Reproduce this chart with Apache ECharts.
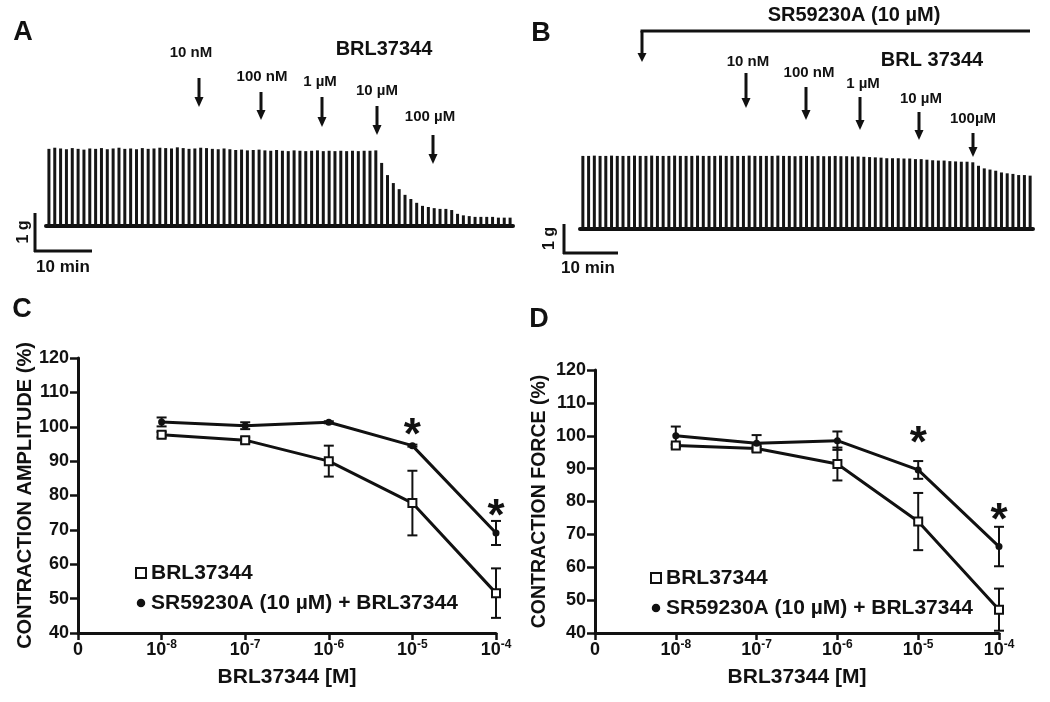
<!DOCTYPE html>
<html>
<head>
<meta charset="utf-8">
<script src="https://cdn.jsdelivr.net/npm/echarts@6/dist/echarts.min.js"></script>
<style>html,body{margin:0;padding:0;background:#fff;}#c{width:1050px;height:702px;}</style>
</head>
<body>
<div id="c"></div>
<script>
// ---------- DATA ----------
// Panel A: contraction amplitudes (g), BRL37344 alone, one value per contraction
const traceA = [
  2.03, 2.06, 2.04, 2.02, 2.05, 2.03, 2.01, 2.04, 2.03, 2.05,
  2.02, 2.04, 2.06, 2.03, 2.04, 2.02, 2.05, 2.03, 2.04, 2.06,
  2.05, 2.04, 2.07, 2.05, 2.03, 2.04, 2.06, 2.05, 2.03, 2.02,
  2.04, 2.02, 2.00, 2.01, 1.99, 2.00, 2.01, 1.99, 1.98, 2.00,
  1.98, 1.97, 1.99, 1.98, 1.97, 1.98, 1.99, 1.97, 1.98, 1.97,
  1.98, 1.97, 1.98, 1.97, 1.98, 1.98, 1.99,
  1.66, 1.34, 1.13, 0.97, 0.82, 0.71, 0.61, 0.53, 0.50, 0.47,
  0.45, 0.45, 0.42, 0.32, 0.28, 0.26, 0.24, 0.24, 0.24, 0.24,
  0.22, 0.22, 0.22
];
// Panel B: contraction amplitudes (g), SR59230A + BRL37344
const traceB = [
  2.52, 2.52, 2.53, 2.52, 2.52, 2.53, 2.52, 2.52, 2.52, 2.53,
  2.52, 2.52, 2.53, 2.52, 2.52, 2.52, 2.53, 2.52, 2.52, 2.52,
  2.53, 2.52, 2.52, 2.52, 2.53, 2.52, 2.52, 2.52, 2.52, 2.53,
  2.52, 2.52, 2.52, 2.52, 2.53, 2.52, 2.52, 2.51, 2.52, 2.52,
  2.51, 2.52, 2.51, 2.51, 2.52, 2.51, 2.51, 2.50, 2.50, 2.49,
  2.48, 2.47, 2.46, 2.44, 2.44, 2.44, 2.43, 2.43, 2.41, 2.41,
  2.39, 2.37, 2.36, 2.36, 2.34, 2.33, 2.32, 2.32, 2.30, 2.18,
  2.09, 2.05, 2.01, 1.95, 1.92, 1.90, 1.86, 1.86, 1.84
];
// Panels C and D: concentration-response (mean ± SEM)
const concentrations = [1e-8, 1e-7, 1e-6, 1e-5, 1e-4];
const ampBRL    = [97.7, 96.1, 90.0, 77.8, 51.6];
const ampBRLerr = [0.8, 0.8, 4.5, 9.4, 7.2];
const ampSR     = [101.4, 100.3, 101.3, 94.5, 69.1];
const ampSRerr  = [1.3, 1.0, 0.3, 0.3, 3.5];
const forceBRL    = [97.0, 96.1, 91.4, 73.9, 47.1];
const forceBRLerr = [0.6, 0.6, 5.0, 8.7, 6.4];
const forceSR     = [100.0, 97.7, 98.5, 89.6, 66.3];
const forceSRerr  = [2.8, 2.5, 2.8, 2.7, 6.0];
// significance marks (concentration, y position)
const sigC = [[1e-5, 100.1], [1e-4, 76.4]];
const sigD = [[1e-5, 100.3], [1e-4, 77.0]];
const nameBRL = 'BRL37344';
const nameSR = 'SR59230A (10 µM) + BRL37344';
const doseLabelsA = ['10 nM', '100 nM', '1 µM', '10 µM', '100 µM'];
const doseLabelsB = ['10 nM', '100 nM', '1 µM', '10 µM', '100µM'];

// ---------- CHART ----------
const FF = '"Liberation Sans", Arial, Helvetica, sans-serif';
const K = '#111';
const chart = echarts.init(document.getElementById('c'), null, {renderer: 'canvas'});

function errSeries(xi, yi, means, errs) {
  return {
    type: 'custom', xAxisIndex: xi, yAxisIndex: yi, silent: true, z: 3,
    data: concentrations.map((c, i) => [c, means[i] - errs[i], means[i] + errs[i]]),
    renderItem: function (params, api) {
      const lo = api.coord([api.value(0), api.value(1)]);
      const hi = api.coord([api.value(0), api.value(2)]);
      const w = 5;
      const st = {stroke: K, lineWidth: 2};
      return {type: 'group', children: [
        {type: 'line', shape: {x1: lo[0], y1: lo[1], x2: hi[0], y2: hi[1]}, style: st},
        {type: 'line', shape: {x1: lo[0] - w, y1: lo[1], x2: lo[0] + w, y2: lo[1]}, style: st},
        {type: 'line', shape: {x1: hi[0] - w, y1: hi[1], x2: hi[0] + w, y2: hi[1]}, style: st}
      ]};
    }
  };
}
function lineSeries(xi, yi, name, means, hollow) {
  return {
    type: 'line', name: name, xAxisIndex: xi, yAxisIndex: yi, z: 4, silent: true,
    data: concentrations.map((c, i) => [c, means[i]]),
    symbol: hollow ? 'rect' : 'circle',
    symbolSize: hollow ? 8 : 7,
    lineStyle: {color: K, width: 3},
    itemStyle: hollow ? {color: '#fff', borderColor: K, borderWidth: 2} : {color: K, borderWidth: 0}
  };
}
function starSeries(xi, yi, pts) {
  return {
    type: 'custom', xAxisIndex: xi, yAxisIndex: yi, silent: true, z: 5,
    data: pts,
    renderItem: function (params, api) {
      const p = api.coord([api.value(0), api.value(1)]);
      return {type: 'text', x: p[0], y: p[1] + 10,
        style: {text: '*', fill: K, font: 'bold 44px ' + FF,
          align: 'center', verticalAlign: 'middle', textAlign: 'center', textVerticalAlign: 'middle'}};
    }
  };
}
function xLog(gi) {
  return {
    gridIndex: gi, type: 'log', logBase: 10, min: 1e-9, max: 1e-4, splitNumber: 5,
    name: 'BRL37344 [M]', nameLocation: 'middle', nameGap: 34,
    nameTextStyle: {fontSize: 21, fontWeight: 'bold', color: K, fontFamily: FF},
    axisLine: {show: true, lineStyle: {color: K, width: 3}},
    axisTick: {show: true, length: 7, lineStyle: {color: K, width: 2.5}},
    splitLine: {show: false}, minorTick: {show: false},
    axisLabel: {
      margin: 6, color: K, fontFamily: FF,
      formatter: function (v) {
        const e = Math.round(Math.log10(v));
        return e <= -9 ? '{n|0}' : '{n|10}{s|' + e + '}';
      },
      rich: {
        n: {fontSize: 18, fontWeight: 'bold', color: K, fontFamily: FF, lineHeight: 22},
        s: {fontSize: 12, fontWeight: 'bold', color: K, fontFamily: FF, lineHeight: 12, verticalAlign: 'top'}
      }
    }
  };
}
function yPct(gi, name, gap, fs) {
  return {
    gridIndex: gi, type: 'value', min: 40, max: 120, interval: 10,
    name: name, nameLocation: 'middle', nameGap: gap,
    nameTextStyle: {fontSize: fs, fontWeight: 'bold', color: K, fontFamily: FF},
    axisLine: {show: true, lineStyle: {color: K, width: 3}},
    axisTick: {show: true, length: 8, lineStyle: {color: K, width: 2.5}},
    splitLine: {show: false},
    axisLabel: {fontSize: 18, fontWeight: 'bold', color: K, fontFamily: FF, margin: 9}
  };
}
function traceX(gi, arr) {
  return {
    gridIndex: gi, type: 'category', data: arr.map((v, i) => i),
    axisLine: {show: true, lineStyle: {color: K, width: 4}},
    axisTick: {show: false}, axisLabel: {show: false}, splitLine: {show: false}
  };
}
function legendFor(left, top) {
  return {
    left: left, top: top, orient: 'vertical', itemWidth: 10, itemHeight: 10, itemGap: 8,
    itemTextGap: 7, selectedMode: false,
    textStyle: {fontSize: 21, fontWeight: 'bold', color: K, fontFamily: FF, lineHeight: 22},
    data: [
      {name: nameBRL, icon: 'rect', itemStyle: {color: '#fff', borderColor: K, borderWidth: 2}},
      {name: nameSR, icon: 'circle', itemStyle: {color: K, borderColor: '#fff', borderWidth: 1.5}}
    ]
  };
}

const option = {
  animation: false,
  backgroundColor: '#fff',
  textStyle: {fontFamily: FF},
  grid: [
    {left: 46, top: 131, width: 467, height: 95},
    {left: 580, top: 142, width: 453, height: 87},
    {left: 78, top: 358, width: 418, height: 275},
    {left: 595, top: 370, width: 404, height: 263}
  ],
  xAxis: [traceX(0, traceA), traceX(1, traceB), xLog(2), xLog(3)],
  yAxis: [
    {gridIndex: 0, type: 'value', min: 0, max: 2.5, show: false},
    {gridIndex: 1, type: 'value', min: 0, max: 3, show: false},
    yPct(2, 'CONTRACTION AMPLITUDE (%)', 43, 20),
    yPct(3, 'CONTRACTION FORCE (%)', 45, 19.5)
  ],
  legend: [legendFor(130, 557), legendFor(645, 562)],
  series: [
    {type: 'bar', xAxisIndex: 0, yAxisIndex: 0, data: traceA, barWidth: 3, silent: true, itemStyle: {color: '#151515'}},
    {type: 'bar', xAxisIndex: 1, yAxisIndex: 1, data: traceB, barWidth: 3, silent: true, itemStyle: {color: '#151515'}},
    errSeries(2, 2, ampBRL, ampBRLerr),
    errSeries(2, 2, ampSR, ampSRerr),
    lineSeries(2, 2, nameBRL, ampBRL, true),
    lineSeries(2, 2, nameSR, ampSR, false),
    starSeries(2, 2, sigC),
    errSeries(3, 3, forceBRL, forceBRLerr),
    errSeries(3, 3, forceSR, forceSRerr),
    lineSeries(3, 3, nameBRL, forceBRL, true),
    lineSeries(3, 3, nameSR, forceSR, false),
    starSeries(3, 3, sigD)
  ]
};
chart.setOption(option);

// ---------- ANNOTATIONS ----------
function txt(s, x, y, size, rot) {
  return {type: 'text', x: x, y: y, rotation: rot || 0, silent: true, z: 100,
    style: {text: s, fill: K, font: 'bold ' + size + 'px ' + FF,
      align: 'center', verticalAlign: 'middle', textAlign: 'center', textVerticalAlign: 'middle'}};
}
function arrow(x, y0, y1, head) {
  const h = head || 10;
  return [
    {type: 'line', silent: true, z: 100, shape: {x1: x, y1: y0, x2: x, y2: y1 - h + 2}, style: {stroke: K, lineWidth: 3}},
    {type: 'polygon', silent: true, z: 100, shape: {points: [[x - 4.5, y1 - h], [x + 4.5, y1 - h], [x, y1]]}, style: {fill: K}}
  ];
}
function lineEl(x1, y1, x2, y2, w) {
  return {type: 'line', silent: true, z: 100, shape: {x1: x1, y1: y1, x2: x2, y2: y2}, style: {stroke: K, lineWidth: w || 3}};
}
// 1 g in pixels from each trace's own scale
const gA = chart.convertToPixel({gridIndex: 0}, [0, 0])[1] - chart.convertToPixel({gridIndex: 0}, [0, 1])[1];
const gB = chart.convertToPixel({gridIndex: 1}, [0, 0])[1] - chart.convertToPixel({gridIndex: 1}, [0, 1])[1];

const els = [
  txt('A', 23, 33, 27), txt('B', 541, 34, 27), txt('C', 22, 310, 27), txt('D', 539, 320, 27),
  // panel A
  txt('BRL37344', 384, 49, 20),
  txt(doseLabelsA[0], 191, 53, 15), txt(doseLabelsA[1], 262, 77, 15), txt(doseLabelsA[2], 320, 82, 15),
  txt(doseLabelsA[3], 377, 91, 15), txt(doseLabelsA[4], 430, 117, 15),
  ...arrow(199, 78, 107), ...arrow(261, 92, 120), ...arrow(322, 97, 127), ...arrow(377, 106, 135), ...arrow(433, 135, 164),
  lineEl(35, 251 - gA, 35, 252), lineEl(34, 251, 92, 251),
  txt('1 g', 24, 251 - gA / 2, 16, Math.PI / 2), txt('10 min', 63, 267, 17),
  // panel B
  txt('SR59230A (10 µM)', 854, 15, 20),
  lineEl(640.5, 31, 1030, 31), ...arrow(642, 31, 62, 9),
  txt('BRL 37344', 932, 60, 20),
  txt(doseLabelsB[0], 748, 62, 15), txt(doseLabelsB[1], 809, 73, 15), txt(doseLabelsB[2], 863, 84, 15),
  txt(doseLabelsB[3], 921, 99, 15), txt(doseLabelsB[4], 973, 119, 15),
  ...arrow(746, 73, 108), ...arrow(806, 87, 120), ...arrow(860, 97, 130), ...arrow(919, 112, 140), ...arrow(973, 133, 157),
  lineEl(564, 253 - gB, 564, 254), lineEl(563, 253, 618, 253),
  txt('1 g', 550, 253 - gB / 2, 16, Math.PI / 2), txt('10 min', 588, 268, 17)
];
chart.setOption({graphic: {elements: els}});
</script>
</body>
</html>
